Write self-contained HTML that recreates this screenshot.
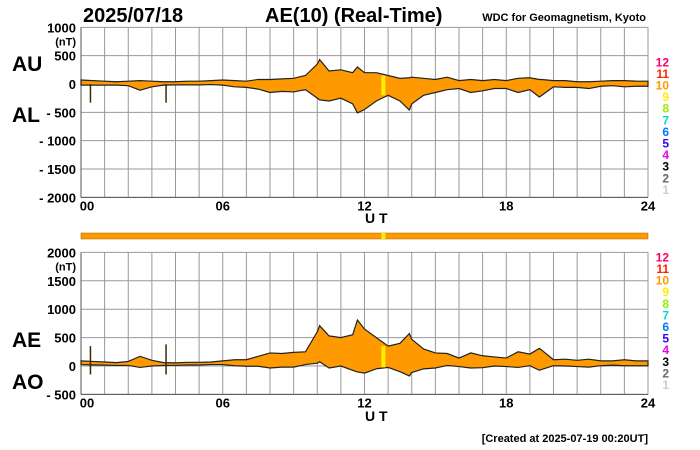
<!DOCTYPE html>
<html><head><meta charset="utf-8"><style>
body{margin:0;background:#fff}
svg{display:block;font-family:"Liberation Sans",Arial,sans-serif;font-weight:bold}
</style></head><body>
<svg id="c" width="700" height="450" viewBox="0 0 700 450">
<text x="83" y="22" font-size="20">2025/07/18</text>
<text x="265" y="22" font-size="20">AE(10) (Real-Time)</text>
<text x="646" y="21" font-size="11" text-anchor="end">WDC for Geomagnetism, Kyoto</text>
<text x="12" y="71" font-size="21">AU</text>
<text x="12" y="122" font-size="21">AL</text>
<text x="12" y="347" font-size="21">AE</text>
<text x="12" y="389" font-size="21">AO</text>
<text x="365" y="223" font-size="14">U T</text>
<text x="365" y="421" font-size="14">U T</text>
<text x="648" y="442" font-size="11" text-anchor="end">[Created at 2025-07-19 00:20UT]</text>
<g id="g"></g>
</svg>
<script>
const hours=[0,0.5,1,1.5,2,2.5,3,3.5,4,4.5,5,5.5,6,6.5,7,7.5,8,8.5,9,9.5,10,10.1,10.5,11,11.5,11.7,12,12.5,13,13.5,13.9,14,14.5,15,15.5,16,16.5,17,17.5,18,18.5,19,19.4,19.5,20,20.5,21,21.5,22,22.5,23,23.5,24];
const au=[70,60,50,40,50,60,50,40,40,50,50,60,70,60,50,80,80,90,100,150,350,430,230,250,200,300,200,200,150,100,110,120,100,80,120,60,80,60,80,60,100,110,80,80,60,60,40,40,50,60,60,50,50];
const al=[-20,-20,-20,-20,-30,-110,-50,-20,-15,-15,-15,-10,-20,-50,-60,-90,-150,-130,-140,-100,-250,-280,-300,-250,-350,-510,-450,-300,-200,-300,-460,-350,-200,-150,-100,-80,-150,-120,-80,-80,-150,-100,-230,-200,-50,-60,-60,-80,-40,-30,-50,-40,-40];
const spikeHours=[0.4,3.6];
const spikeLow=[-330,-330];
const spikeHigh=[350,380];
const topTicks=[1000,500,0,-500,-1000,-1500,-2000];
const botTicks=[2000,1500,1000,500,0,-500];
const xTicks=["00","06","12","18","24"];
const legendNums=["12","11","10","9","8","7","6","5","4","3","2","1"];
const legendCols=["#ff0066","#ff2200","#ff9900","#ffee00","#99ee00","#00ddcc","#0077ff","#3300ff","#ee00ee","#000","#666","#ccc"];
const yellowHour=12.8;

const X0=81,X1=648;
const x=h=>X0+h*(X1-X0)/24;
const yTop=v=>84-v*(170/3000);
const yBot=v=>366-v*(142/2500);
const g=document.getElementById('g');
const NS='http://www.w3.org/2000/svg';
function mk(t,a){const e=document.createElementNS(NS,t);for(const k in a)e.setAttribute(k,a[k]);g.appendChild(e);return e;}

function panel(yf,ticks,top,bottom,name){
  for(let h=0;h<=24;h++){
    const l=mk('line',{x1:x(h),x2:x(h),y1:yf(top),y2:yf(bottom),stroke:'#999','stroke-width':1});
    
    
  }
  ticks.forEach(v=>{
    const l=mk('line',{x1:X0,x2:X1,y1:yf(v),y2:yf(v),stroke:'#999','stroke-width':1});
    
    
    const t=mk('text',{x:76,y:yf(v)+5,'font-size':13,'text-anchor':'end'});
    t.textContent=(v<0?'- '+(-v):v);
    
    
  });
  const u=mk('text',{x:76,y:yf(ticks[0])+18,'font-size':11,'text-anchor':'end'});
  u.textContent='(nT)';
  
  
  xTicks.forEach((s,i)=>{
    const t=mk('text',{x:x(i*6)+(i==0?6:0),y:yf(bottom)+13,'font-size':13,'text-anchor':'middle'});
    t.textContent=s;
    
    
  });
  const lx=mk('line',{x1:X0,x2:X0,y1:yf(top),y2:yf(bottom),stroke:'#555'});
  
  
  const bx=mk('line',{x1:X0,x2:X1,y1:yf(bottom),y2:yf(bottom),stroke:'#555'});
  
  
  legendNums.forEach((n,i)=>{
    const t=mk('text',{x:669,y:yf(top)+ (name=='top'?39:9)+i*11.6,'font-size':12,'text-anchor':'end',fill:legendCols[i]});
    t.textContent=n;
    
    
  });
}
function area(yf,upper,lower,name){
  let pts=hours.map((h,i)=>x(h)+','+yf(upper[i]));
  for(let i=hours.length-1;i>=0;i--)pts.push(x(hours[i])+','+yf(lower[i]));
  const p=mk('polygon',{points:pts.join(' '),fill:'#ff9900',stroke:'#222','stroke-width':1.2});
  
  
  const i=hours.findIndex(h=>h>=yellowHour);
  const r=mk('rect',{x:x(yellowHour)-2,width:4,y:yf(upper[i]),height:yf(lower[i])-yf(upper[i]),fill:'#ffee00'});
  
  
}
panel(yTop,topTicks,1000,-2000,'top');
area(yTop,au,al,'au-al-band');
spikeHours.forEach((h,i)=>{
  const l=mk('line',{x1:x(h),x2:x(h),y1:yTop(0),y2:yTop(spikeLow[i]),stroke:'#3a2a00','stroke-width':1.5});
  
  
});
const bar=mk('rect',{x:X0,y:233,width:X1-X0,height:6,fill:'#ff9900',stroke:'#aa6600','stroke-width':0.5});


const yb=mk('rect',{x:x(yellowHour)-2,y:233,width:4,height:6,fill:'#ffee00'});


panel(yBot,botTicks,2000,-500,'bottom');
const ae=au.map((v,i)=>v-al[i]);
const ao=au.map((v,i)=>(v+al[i])/2);
area(yBot,ae,ao,'ae-ao-band');
spikeHours.forEach((h,i)=>{
  const l=mk('line',{x1:x(h),x2:x(h),y1:yBot(spikeHigh[i]),y2:yBot(-150),stroke:'#3a2a00','stroke-width':1.5});
  
  
});
</script>
</body></html>
